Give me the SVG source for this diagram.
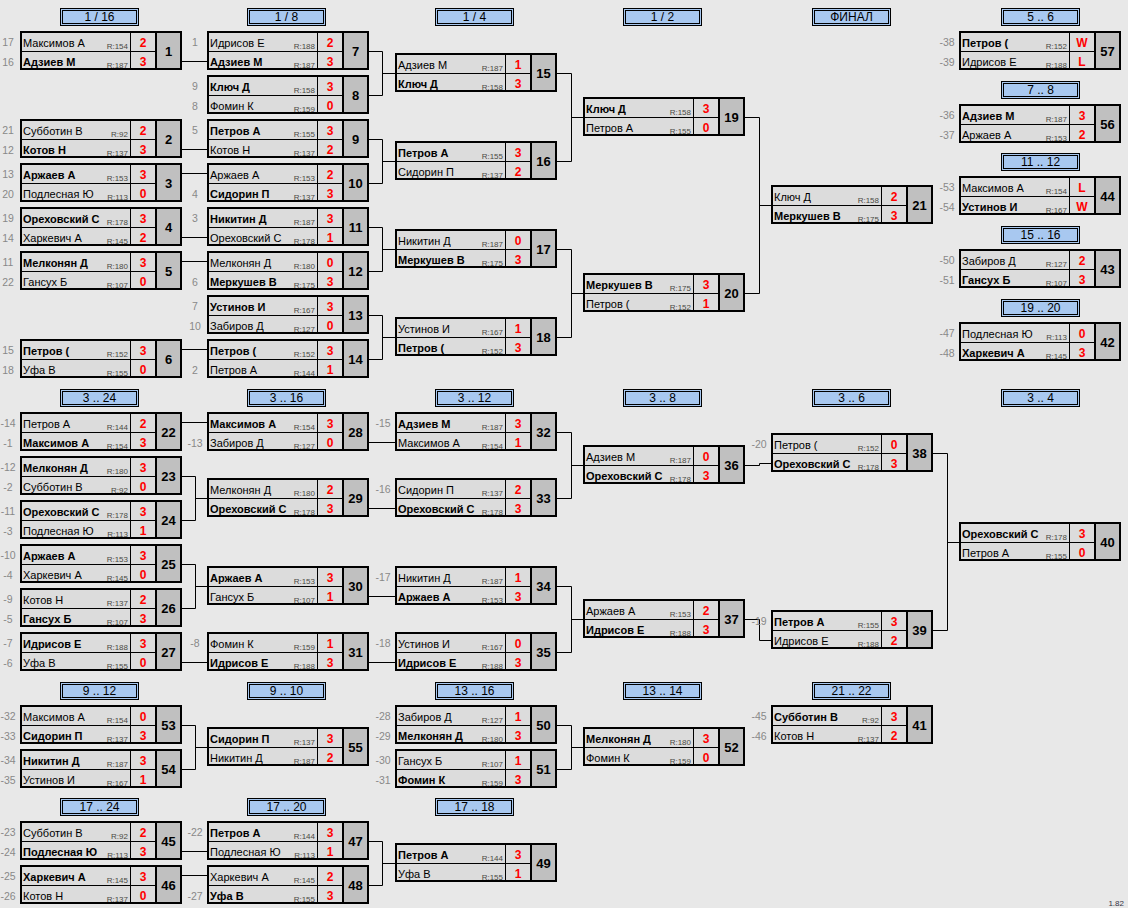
<svg xmlns="http://www.w3.org/2000/svg" xmlns:xlink="http://www.w3.org/1999/xlink" width="1128" height="908" viewBox="0 0 1128 908">
<style>
text{font-family:'Liberation Sans',Arial,sans-serif}
.n{font-size:11px;fill:#000}
.b{font-weight:bold}
.r{font-size:8px;fill:#4a4a44;text-anchor:end}
.s{font-size:12px;font-weight:bold;fill:#f00;text-anchor:middle}
.m{font-size:13px;font-weight:bold;fill:#000;text-anchor:middle}
.sd{font-size:10.5px;fill:#888;text-anchor:middle}
.h{font-size:12px;fill:#000;text-anchor:middle}
.v{font-size:8px;fill:#334;text-anchor:end}
.hb{fill:#a8c8f0;stroke:#000;stroke-width:1}
.hi{fill:none;stroke:#000;stroke-width:1}
.cf{fill:#dcdcdc;stroke:#000;stroke-width:2}
.nf{fill:#c0c0c0;stroke:#000;stroke-width:2}
.ln{stroke:#000;stroke-width:1;fill:none}
.cn{stroke:#000;stroke-width:1;fill:none}
</style>
<defs>
<g id="f"><rect class="cf" x="1" y="1" width="160" height="37"/><rect class="nf" x="136" y="1" width="25" height="37"/><path class="ln" d="M110.5 1V38M1 20.5H136"/></g>
<g id="hf"><rect class="hb" x="0.5" y="0.5" width="78" height="17"/><rect class="hi" x="2.5" y="2.5" width="74" height="13"/></g>
</defs>
<rect width="1128" height="908" fill="#e8e8e8"/>
<g id="connectors">
<path class="cn" d="M182 61.5H207M182 149.5H207M182 173.5H207M182 237.5H207M182 261.5H207M182 349.5H207
M369 51.5H382.5V95.5H369M382.5 73.5H395M369 139.5H382.5V183.5H369M382.5 161.5H395M369 227.5H382.5V271.5H369M382.5 249.5H395M369 315.5H382.5V359.5H369M382.5 337.5H395
M557 73.5H571.5V161.5H557M571.5 117.5H583M557 249.5H571.5V337.5H557M571.5 293.5H583
M745 117.5H759.5V293.5H745M759.5 205.5H771
M182 422.5H207M182 476.5H195.5V520.5H182M195.5 498.5H207M182 564.5H195.5V608.5H182M195.5 586.5H207M182 662.5H207
M369 442.5H395M369 508.5H395M369 596.5H395M369 662.5H395
M557 432.5H571.5V498.5H557M571.5 465.5H583M557 586.5H571.5V652.5H557M571.5 619.5H583
M745 465.5H759.5V463.5H771M745 619.5H759.5V640.5H771
M933 453.5H947.5V630.5H933M947.5 542.5H959
M182 725.5H195.5V769.5H182M195.5 747.5H207M557 725.5H571.5V769.5H557M571.5 747.5H583
M182 851.5H207M182 875.5H207M369 841.5H382.5V885.5H369M382.5 863.5H395"/>
</g>
<g id="headers">
<g id="h1" transform="translate(60,8)"><use href="#hf"/><text class="h" x="39.5" y="13">1 / 16</text></g>
<g id="h2" transform="translate(247,8)"><use href="#hf"/><text class="h" x="39.5" y="13">1 / 8</text></g>
<g id="h3" transform="translate(435,8)"><use href="#hf"/><text class="h" x="39.5" y="13">1 / 4</text></g>
<g id="h4" transform="translate(623,8)"><use href="#hf"/><text class="h" x="39.5" y="13">1 / 2</text></g>
<g id="h5" transform="translate(812,8)"><use href="#hf"/><text class="h" x="39.5" y="13">ФИНАЛ</text></g>
<g id="h6" transform="translate(1001,8)"><use href="#hf"/><text class="h" x="39.5" y="13">5 .. 6</text></g>
<g id="h7" transform="translate(1001,81)"><use href="#hf"/><text class="h" x="39.5" y="13">7 .. 8</text></g>
<g id="h8" transform="translate(1001,153)"><use href="#hf"/><text class="h" x="39.5" y="13">11 .. 12</text></g>
<g id="h9" transform="translate(1001,226)"><use href="#hf"/><text class="h" x="39.5" y="13">15 .. 16</text></g>
<g id="h10" transform="translate(1001,299)"><use href="#hf"/><text class="h" x="39.5" y="13">19 .. 20</text></g>
<g id="h11" transform="translate(60,389)"><use href="#hf"/><text class="h" x="39.5" y="13">3 .. 24</text></g>
<g id="h12" transform="translate(247,389)"><use href="#hf"/><text class="h" x="39.5" y="13">3 .. 16</text></g>
<g id="h13" transform="translate(435,389)"><use href="#hf"/><text class="h" x="39.5" y="13">3 .. 12</text></g>
<g id="h14" transform="translate(623,389)"><use href="#hf"/><text class="h" x="39.5" y="13">3 .. 8</text></g>
<g id="h15" transform="translate(812,389)"><use href="#hf"/><text class="h" x="39.5" y="13">3 .. 6</text></g>
<g id="h16" transform="translate(1001,389)"><use href="#hf"/><text class="h" x="39.5" y="13">3 .. 4</text></g>
<g id="h17" transform="translate(60,682)"><use href="#hf"/><text class="h" x="39.5" y="13">9 .. 12</text></g>
<g id="h18" transform="translate(247,682)"><use href="#hf"/><text class="h" x="39.5" y="13">9 .. 10</text></g>
<g id="h19" transform="translate(435,682)"><use href="#hf"/><text class="h" x="39.5" y="13">13 .. 16</text></g>
<g id="h20" transform="translate(623,682)"><use href="#hf"/><text class="h" x="39.5" y="13">13 .. 14</text></g>
<g id="h21" transform="translate(812,682)"><use href="#hf"/><text class="h" x="39.5" y="13">21 .. 22</text></g>
<g id="h22" transform="translate(60,798)"><use href="#hf"/><text class="h" x="39.5" y="13">17 .. 24</text></g>
<g id="h23" transform="translate(247,798)"><use href="#hf"/><text class="h" x="39.5" y="13">17 .. 20</text></g>
<g id="h24" transform="translate(435,798)"><use href="#hf"/><text class="h" x="39.5" y="13">17 .. 18</text></g>
</g>
<g id="m1" transform="translate(20,31)"><use href="#f"/><text class="sd" x="-12" y="15">17</text><text class="sd" x="-12" y="35">16</text><text class="n" x="3" y="15.5">Максимов А</text><text class="r" x="108" y="17.5">R:154</text><text class="s" x="123" y="15.5">2</text><text class="n b" x="3" y="34.5">Адзиев М</text><text class="r" x="108" y="36.5">R:187</text><text class="s" x="123" y="34.5">3</text><text class="m" x="148.5" y="24.5">1</text></g>
<g id="m2" transform="translate(20,119)"><use href="#f"/><text class="sd" x="-12" y="15">21</text><text class="sd" x="-12" y="35">12</text><text class="n" x="3" y="15.5">Субботин В</text><text class="r" x="108" y="17.5">R:92</text><text class="s" x="123" y="15.5">2</text><text class="n b" x="3" y="34.5">Котов Н</text><text class="r" x="108" y="36.5">R:137</text><text class="s" x="123" y="34.5">3</text><text class="m" x="148.5" y="24.5">2</text></g>
<g id="m3" transform="translate(20,163)"><use href="#f"/><text class="sd" x="-12" y="15">13</text><text class="sd" x="-12" y="35">20</text><text class="n b" x="3" y="15.5">Аржаев А</text><text class="r" x="108" y="17.5">R:153</text><text class="s" x="123" y="15.5">3</text><text class="n" x="3" y="34.5">Подлесная Ю</text><text class="r" x="108" y="36.5">R:113</text><text class="s" x="123" y="34.5">0</text><text class="m" x="148.5" y="24.5">3</text></g>
<g id="m4" transform="translate(20,207)"><use href="#f"/><text class="sd" x="-12" y="15">19</text><text class="sd" x="-12" y="35">14</text><text class="n b" x="3" y="15.5">Ореховский С</text><text class="r" x="108" y="17.5">R:178</text><text class="s" x="123" y="15.5">3</text><text class="n" x="3" y="34.5">Харкевич А</text><text class="r" x="108" y="36.5">R:145</text><text class="s" x="123" y="34.5">2</text><text class="m" x="148.5" y="24.5">4</text></g>
<g id="m5" transform="translate(20,251)"><use href="#f"/><text class="sd" x="-12" y="15">11</text><text class="sd" x="-12" y="35">22</text><text class="n b" x="3" y="15.5">Мелконян Д</text><text class="r" x="108" y="17.5">R:180</text><text class="s" x="123" y="15.5">3</text><text class="n" x="3" y="34.5">Гансух Б</text><text class="r" x="108" y="36.5">R:107</text><text class="s" x="123" y="34.5">0</text><text class="m" x="148.5" y="24.5">5</text></g>
<g id="m6" transform="translate(20,339)"><use href="#f"/><text class="sd" x="-12" y="15">15</text><text class="sd" x="-12" y="35">18</text><text class="n b" x="3" y="15.5">Петров (</text><text class="r" x="108" y="17.5">R:152</text><text class="s" x="123" y="15.5">3</text><text class="n" x="3" y="34.5">Уфа В</text><text class="r" x="108" y="36.5">R:155</text><text class="s" x="123" y="34.5">0</text><text class="m" x="148.5" y="24.5">6</text></g>
<g id="m7" transform="translate(207,31)"><use href="#f"/><text class="sd" x="-12" y="15">1</text><text class="n" x="3" y="15.5">Идрисов Е</text><text class="r" x="108" y="17.5">R:188</text><text class="s" x="123" y="15.5">2</text><text class="n b" x="3" y="34.5">Адзиев М</text><text class="r" x="108" y="36.5">R:187</text><text class="s" x="123" y="34.5">3</text><text class="m" x="148.5" y="24.5">7</text></g>
<g id="m8" transform="translate(207,75)"><use href="#f"/><text class="sd" x="-12" y="15">9</text><text class="sd" x="-12" y="35">8</text><text class="n b" x="3" y="15.5">Ключ Д</text><text class="r" x="108" y="17.5">R:158</text><text class="s" x="123" y="15.5">3</text><text class="n" x="3" y="34.5">Фомин К</text><text class="r" x="108" y="36.5">R:159</text><text class="s" x="123" y="34.5">0</text><text class="m" x="148.5" y="24.5">8</text></g>
<g id="m9" transform="translate(207,119)"><use href="#f"/><text class="sd" x="-12" y="15">5</text><text class="n b" x="3" y="15.5">Петров А</text><text class="r" x="108" y="17.5">R:155</text><text class="s" x="123" y="15.5">3</text><text class="n" x="3" y="34.5">Котов Н</text><text class="r" x="108" y="36.5">R:137</text><text class="s" x="123" y="34.5">2</text><text class="m" x="148.5" y="24.5">9</text></g>
<g id="m10" transform="translate(207,163)"><use href="#f"/><text class="sd" x="-12" y="35">4</text><text class="n" x="3" y="15.5">Аржаев А</text><text class="r" x="108" y="17.5">R:153</text><text class="s" x="123" y="15.5">2</text><text class="n b" x="3" y="34.5">Сидорин П</text><text class="r" x="108" y="36.5">R:137</text><text class="s" x="123" y="34.5">3</text><text class="m" x="148.5" y="24.5">10</text></g>
<g id="m11" transform="translate(207,207)"><use href="#f"/><text class="sd" x="-12" y="15">3</text><text class="n b" x="3" y="15.5">Никитин Д</text><text class="r" x="108" y="17.5">R:187</text><text class="s" x="123" y="15.5">3</text><text class="n" x="3" y="34.5">Ореховский С</text><text class="r" x="108" y="36.5">R:178</text><text class="s" x="123" y="34.5">1</text><text class="m" x="148.5" y="24.5">11</text></g>
<g id="m12" transform="translate(207,251)"><use href="#f"/><text class="sd" x="-12" y="35">6</text><text class="n" x="3" y="15.5">Мелконян Д</text><text class="r" x="108" y="17.5">R:180</text><text class="s" x="123" y="15.5">0</text><text class="n b" x="3" y="34.5">Меркушев В</text><text class="r" x="108" y="36.5">R:175</text><text class="s" x="123" y="34.5">3</text><text class="m" x="148.5" y="24.5">12</text></g>
<g id="m13" transform="translate(207,295)"><use href="#f"/><text class="sd" x="-12" y="15">7</text><text class="sd" x="-12" y="35">10</text><text class="n b" x="3" y="15.5">Устинов И</text><text class="r" x="108" y="17.5">R:167</text><text class="s" x="123" y="15.5">3</text><text class="n" x="3" y="34.5">Забиров Д</text><text class="r" x="108" y="36.5">R:127</text><text class="s" x="123" y="34.5">0</text><text class="m" x="148.5" y="24.5">13</text></g>
<g id="m14" transform="translate(207,339)"><use href="#f"/><text class="sd" x="-12" y="35">2</text><text class="n b" x="3" y="15.5">Петров (</text><text class="r" x="108" y="17.5">R:152</text><text class="s" x="123" y="15.5">3</text><text class="n" x="3" y="34.5">Петров А</text><text class="r" x="108" y="36.5">R:144</text><text class="s" x="123" y="34.5">1</text><text class="m" x="148.5" y="24.5">14</text></g>
<g id="m15" transform="translate(395,53)"><use href="#f"/><text class="n" x="3" y="15.5">Адзиев М</text><text class="r" x="108" y="17.5">R:187</text><text class="s" x="123" y="15.5">1</text><text class="n b" x="3" y="34.5">Ключ Д</text><text class="r" x="108" y="36.5">R:158</text><text class="s" x="123" y="34.5">3</text><text class="m" x="148.5" y="24.5">15</text></g>
<g id="m16" transform="translate(395,141)"><use href="#f"/><text class="n b" x="3" y="15.5">Петров А</text><text class="r" x="108" y="17.5">R:155</text><text class="s" x="123" y="15.5">3</text><text class="n" x="3" y="34.5">Сидорин П</text><text class="r" x="108" y="36.5">R:137</text><text class="s" x="123" y="34.5">2</text><text class="m" x="148.5" y="24.5">16</text></g>
<g id="m17" transform="translate(395,229)"><use href="#f"/><text class="n" x="3" y="15.5">Никитин Д</text><text class="r" x="108" y="17.5">R:187</text><text class="s" x="123" y="15.5">0</text><text class="n b" x="3" y="34.5">Меркушев В</text><text class="r" x="108" y="36.5">R:175</text><text class="s" x="123" y="34.5">3</text><text class="m" x="148.5" y="24.5">17</text></g>
<g id="m18" transform="translate(395,317)"><use href="#f"/><text class="n" x="3" y="15.5">Устинов И</text><text class="r" x="108" y="17.5">R:167</text><text class="s" x="123" y="15.5">1</text><text class="n b" x="3" y="34.5">Петров (</text><text class="r" x="108" y="36.5">R:152</text><text class="s" x="123" y="34.5">3</text><text class="m" x="148.5" y="24.5">18</text></g>
<g id="m19" transform="translate(583,97)"><use href="#f"/><text class="n b" x="3" y="15.5">Ключ Д</text><text class="r" x="108" y="17.5">R:158</text><text class="s" x="123" y="15.5">3</text><text class="n" x="3" y="34.5">Петров А</text><text class="r" x="108" y="36.5">R:155</text><text class="s" x="123" y="34.5">0</text><text class="m" x="148.5" y="24.5">19</text></g>
<g id="m20" transform="translate(583,273)"><use href="#f"/><text class="n b" x="3" y="15.5">Меркушев В</text><text class="r" x="108" y="17.5">R:175</text><text class="s" x="123" y="15.5">3</text><text class="n" x="3" y="34.5">Петров (</text><text class="r" x="108" y="36.5">R:152</text><text class="s" x="123" y="34.5">1</text><text class="m" x="148.5" y="24.5">20</text></g>
<g id="m21" transform="translate(771,185)"><use href="#f"/><text class="n" x="3" y="15.5">Ключ Д</text><text class="r" x="108" y="17.5">R:158</text><text class="s" x="123" y="15.5">2</text><text class="n b" x="3" y="34.5">Меркушев В</text><text class="r" x="108" y="36.5">R:175</text><text class="s" x="123" y="34.5">3</text><text class="m" x="148.5" y="24.5">21</text></g>
<g id="m57" transform="translate(959,31)"><use href="#f"/><text class="sd" x="-12" y="15">-38</text><text class="sd" x="-12" y="35">-39</text><text class="n b" x="3" y="15.5">Петров (</text><text class="r" x="108" y="17.5">R:152</text><text class="s" x="123" y="15.5">W</text><text class="n" x="3" y="34.5">Идрисов Е</text><text class="r" x="108" y="36.5">R:188</text><text class="s" x="123" y="34.5">L</text><text class="m" x="148.5" y="24.5">57</text></g>
<g id="m56" transform="translate(959,104)"><use href="#f"/><text class="sd" x="-12" y="15">-36</text><text class="sd" x="-12" y="35">-37</text><text class="n b" x="3" y="15.5">Адзиев М</text><text class="r" x="108" y="17.5">R:187</text><text class="s" x="123" y="15.5">3</text><text class="n" x="3" y="34.5">Аржаев А</text><text class="r" x="108" y="36.5">R:153</text><text class="s" x="123" y="34.5">2</text><text class="m" x="148.5" y="24.5">56</text></g>
<g id="m44" transform="translate(959,176)"><use href="#f"/><text class="sd" x="-12" y="15">-53</text><text class="sd" x="-12" y="35">-54</text><text class="n" x="3" y="15.5">Максимов А</text><text class="r" x="108" y="17.5">R:154</text><text class="s" x="123" y="15.5">L</text><text class="n b" x="3" y="34.5">Устинов И</text><text class="r" x="108" y="36.5">R:167</text><text class="s" x="123" y="34.5">W</text><text class="m" x="148.5" y="24.5">44</text></g>
<g id="m43" transform="translate(959,249)"><use href="#f"/><text class="sd" x="-12" y="15">-50</text><text class="sd" x="-12" y="35">-51</text><text class="n" x="3" y="15.5">Забиров Д</text><text class="r" x="108" y="17.5">R:127</text><text class="s" x="123" y="15.5">2</text><text class="n b" x="3" y="34.5">Гансух Б</text><text class="r" x="108" y="36.5">R:107</text><text class="s" x="123" y="34.5">3</text><text class="m" x="148.5" y="24.5">43</text></g>
<g id="m42" transform="translate(959,322)"><use href="#f"/><text class="sd" x="-12" y="15">-47</text><text class="sd" x="-12" y="35">-48</text><text class="n" x="3" y="15.5">Подлесная Ю</text><text class="r" x="108" y="17.5">R:113</text><text class="s" x="123" y="15.5">0</text><text class="n b" x="3" y="34.5">Харкевич А</text><text class="r" x="108" y="36.5">R:145</text><text class="s" x="123" y="34.5">3</text><text class="m" x="148.5" y="24.5">42</text></g>
<g id="m22" transform="translate(20,412)"><use href="#f"/><text class="sd" x="-12" y="15">-14</text><text class="sd" x="-12" y="35">-1</text><text class="n" x="3" y="15.5">Петров А</text><text class="r" x="108" y="17.5">R:144</text><text class="s" x="123" y="15.5">2</text><text class="n b" x="3" y="34.5">Максимов А</text><text class="r" x="108" y="36.5">R:154</text><text class="s" x="123" y="34.5">3</text><text class="m" x="148.5" y="24.5">22</text></g>
<g id="m23" transform="translate(20,456)"><use href="#f"/><text class="sd" x="-12" y="15">-12</text><text class="sd" x="-12" y="35">-2</text><text class="n b" x="3" y="15.5">Мелконян Д</text><text class="r" x="108" y="17.5">R:180</text><text class="s" x="123" y="15.5">3</text><text class="n" x="3" y="34.5">Субботин В</text><text class="r" x="108" y="36.5">R:92</text><text class="s" x="123" y="34.5">0</text><text class="m" x="148.5" y="24.5">23</text></g>
<g id="m24" transform="translate(20,500)"><use href="#f"/><text class="sd" x="-12" y="15">-11</text><text class="sd" x="-12" y="35">-3</text><text class="n b" x="3" y="15.5">Ореховский С</text><text class="r" x="108" y="17.5">R:178</text><text class="s" x="123" y="15.5">3</text><text class="n" x="3" y="34.5">Подлесная Ю</text><text class="r" x="108" y="36.5">R:113</text><text class="s" x="123" y="34.5">1</text><text class="m" x="148.5" y="24.5">24</text></g>
<g id="m25" transform="translate(20,544)"><use href="#f"/><text class="sd" x="-12" y="15">-10</text><text class="sd" x="-12" y="35">-4</text><text class="n b" x="3" y="15.5">Аржаев А</text><text class="r" x="108" y="17.5">R:153</text><text class="s" x="123" y="15.5">3</text><text class="n" x="3" y="34.5">Харкевич А</text><text class="r" x="108" y="36.5">R:145</text><text class="s" x="123" y="34.5">0</text><text class="m" x="148.5" y="24.5">25</text></g>
<g id="m26" transform="translate(20,588)"><use href="#f"/><text class="sd" x="-12" y="15">-9</text><text class="sd" x="-12" y="35">-5</text><text class="n" x="3" y="15.5">Котов Н</text><text class="r" x="108" y="17.5">R:137</text><text class="s" x="123" y="15.5">2</text><text class="n b" x="3" y="34.5">Гансух Б</text><text class="r" x="108" y="36.5">R:107</text><text class="s" x="123" y="34.5">3</text><text class="m" x="148.5" y="24.5">26</text></g>
<g id="m27" transform="translate(20,632)"><use href="#f"/><text class="sd" x="-12" y="15">-7</text><text class="sd" x="-12" y="35">-6</text><text class="n b" x="3" y="15.5">Идрисов Е</text><text class="r" x="108" y="17.5">R:188</text><text class="s" x="123" y="15.5">3</text><text class="n" x="3" y="34.5">Уфа В</text><text class="r" x="108" y="36.5">R:155</text><text class="s" x="123" y="34.5">0</text><text class="m" x="148.5" y="24.5">27</text></g>
<g id="m28" transform="translate(207,412)"><use href="#f"/><text class="sd" x="-12" y="35">-13</text><text class="n b" x="3" y="15.5">Максимов А</text><text class="r" x="108" y="17.5">R:154</text><text class="s" x="123" y="15.5">3</text><text class="n" x="3" y="34.5">Забиров Д</text><text class="r" x="108" y="36.5">R:127</text><text class="s" x="123" y="34.5">0</text><text class="m" x="148.5" y="24.5">28</text></g>
<g id="m29" transform="translate(207,478)"><use href="#f"/><text class="n" x="3" y="15.5">Мелконян Д</text><text class="r" x="108" y="17.5">R:180</text><text class="s" x="123" y="15.5">2</text><text class="n b" x="3" y="34.5">Ореховский С</text><text class="r" x="108" y="36.5">R:178</text><text class="s" x="123" y="34.5">3</text><text class="m" x="148.5" y="24.5">29</text></g>
<g id="m30" transform="translate(207,566)"><use href="#f"/><text class="n b" x="3" y="15.5">Аржаев А</text><text class="r" x="108" y="17.5">R:153</text><text class="s" x="123" y="15.5">3</text><text class="n" x="3" y="34.5">Гансух Б</text><text class="r" x="108" y="36.5">R:107</text><text class="s" x="123" y="34.5">1</text><text class="m" x="148.5" y="24.5">30</text></g>
<g id="m31" transform="translate(207,632)"><use href="#f"/><text class="sd" x="-12" y="15">-8</text><text class="n" x="3" y="15.5">Фомин К</text><text class="r" x="108" y="17.5">R:159</text><text class="s" x="123" y="15.5">1</text><text class="n b" x="3" y="34.5">Идрисов Е</text><text class="r" x="108" y="36.5">R:188</text><text class="s" x="123" y="34.5">3</text><text class="m" x="148.5" y="24.5">31</text></g>
<g id="m32" transform="translate(395,412)"><use href="#f"/><text class="sd" x="-12" y="15">-15</text><text class="n b" x="3" y="15.5">Адзиев М</text><text class="r" x="108" y="17.5">R:187</text><text class="s" x="123" y="15.5">3</text><text class="n" x="3" y="34.5">Максимов А</text><text class="r" x="108" y="36.5">R:154</text><text class="s" x="123" y="34.5">1</text><text class="m" x="148.5" y="24.5">32</text></g>
<g id="m33" transform="translate(395,478)"><use href="#f"/><text class="sd" x="-12" y="15">-16</text><text class="n" x="3" y="15.5">Сидорин П</text><text class="r" x="108" y="17.5">R:137</text><text class="s" x="123" y="15.5">2</text><text class="n b" x="3" y="34.5">Ореховский С</text><text class="r" x="108" y="36.5">R:178</text><text class="s" x="123" y="34.5">3</text><text class="m" x="148.5" y="24.5">33</text></g>
<g id="m34" transform="translate(395,566)"><use href="#f"/><text class="sd" x="-12" y="15">-17</text><text class="n" x="3" y="15.5">Никитин Д</text><text class="r" x="108" y="17.5">R:187</text><text class="s" x="123" y="15.5">1</text><text class="n b" x="3" y="34.5">Аржаев А</text><text class="r" x="108" y="36.5">R:153</text><text class="s" x="123" y="34.5">3</text><text class="m" x="148.5" y="24.5">34</text></g>
<g id="m35" transform="translate(395,632)"><use href="#f"/><text class="sd" x="-12" y="15">-18</text><text class="n" x="3" y="15.5">Устинов И</text><text class="r" x="108" y="17.5">R:167</text><text class="s" x="123" y="15.5">0</text><text class="n b" x="3" y="34.5">Идрисов Е</text><text class="r" x="108" y="36.5">R:188</text><text class="s" x="123" y="34.5">3</text><text class="m" x="148.5" y="24.5">35</text></g>
<g id="m36" transform="translate(583,445)"><use href="#f"/><text class="n" x="3" y="15.5">Адзиев М</text><text class="r" x="108" y="17.5">R:187</text><text class="s" x="123" y="15.5">0</text><text class="n b" x="3" y="34.5">Ореховский С</text><text class="r" x="108" y="36.5">R:178</text><text class="s" x="123" y="34.5">3</text><text class="m" x="148.5" y="24.5">36</text></g>
<g id="m37" transform="translate(583,599)"><use href="#f"/><text class="n" x="3" y="15.5">Аржаев А</text><text class="r" x="108" y="17.5">R:153</text><text class="s" x="123" y="15.5">2</text><text class="n b" x="3" y="34.5">Идрисов Е</text><text class="r" x="108" y="36.5">R:188</text><text class="s" x="123" y="34.5">3</text><text class="m" x="148.5" y="24.5">37</text></g>
<g id="m38" transform="translate(771,433)"><use href="#f"/><text class="sd" x="-12" y="15">-20</text><text class="n" x="3" y="15.5">Петров (</text><text class="r" x="108" y="17.5">R:152</text><text class="s" x="123" y="15.5">0</text><text class="n b" x="3" y="34.5">Ореховский С</text><text class="r" x="108" y="36.5">R:178</text><text class="s" x="123" y="34.5">3</text><text class="m" x="148.5" y="24.5">38</text></g>
<g id="m39" transform="translate(771,610)"><use href="#f"/><text class="sd" x="-12" y="15">-19</text><text class="n b" x="3" y="15.5">Петров А</text><text class="r" x="108" y="17.5">R:155</text><text class="s" x="123" y="15.5">3</text><text class="n" x="3" y="34.5">Идрисов Е</text><text class="r" x="108" y="36.5">R:188</text><text class="s" x="123" y="34.5">2</text><text class="m" x="148.5" y="24.5">39</text></g>
<g id="m40" transform="translate(959,522)"><use href="#f"/><text class="n b" x="3" y="15.5">Ореховский С</text><text class="r" x="108" y="17.5">R:178</text><text class="s" x="123" y="15.5">3</text><text class="n" x="3" y="34.5">Петров А</text><text class="r" x="108" y="36.5">R:155</text><text class="s" x="123" y="34.5">0</text><text class="m" x="148.5" y="24.5">40</text></g>
<g id="m53" transform="translate(20,705)"><use href="#f"/><text class="sd" x="-12" y="15">-32</text><text class="sd" x="-12" y="35">-33</text><text class="n" x="3" y="15.5">Максимов А</text><text class="r" x="108" y="17.5">R:154</text><text class="s" x="123" y="15.5">0</text><text class="n b" x="3" y="34.5">Сидорин П</text><text class="r" x="108" y="36.5">R:137</text><text class="s" x="123" y="34.5">3</text><text class="m" x="148.5" y="24.5">53</text></g>
<g id="m54" transform="translate(20,749)"><use href="#f"/><text class="sd" x="-12" y="15">-34</text><text class="sd" x="-12" y="35">-35</text><text class="n b" x="3" y="15.5">Никитин Д</text><text class="r" x="108" y="17.5">R:187</text><text class="s" x="123" y="15.5">3</text><text class="n" x="3" y="34.5">Устинов И</text><text class="r" x="108" y="36.5">R:167</text><text class="s" x="123" y="34.5">1</text><text class="m" x="148.5" y="24.5">54</text></g>
<g id="m55" transform="translate(207,727)"><use href="#f"/><text class="n b" x="3" y="15.5">Сидорин П</text><text class="r" x="108" y="17.5">R:137</text><text class="s" x="123" y="15.5">3</text><text class="n" x="3" y="34.5">Никитин Д</text><text class="r" x="108" y="36.5">R:187</text><text class="s" x="123" y="34.5">2</text><text class="m" x="148.5" y="24.5">55</text></g>
<g id="m50" transform="translate(395,705)"><use href="#f"/><text class="sd" x="-12" y="15">-28</text><text class="sd" x="-12" y="35">-29</text><text class="n" x="3" y="15.5">Забиров Д</text><text class="r" x="108" y="17.5">R:127</text><text class="s" x="123" y="15.5">1</text><text class="n b" x="3" y="34.5">Мелконян Д</text><text class="r" x="108" y="36.5">R:180</text><text class="s" x="123" y="34.5">3</text><text class="m" x="148.5" y="24.5">50</text></g>
<g id="m51" transform="translate(395,749)"><use href="#f"/><text class="sd" x="-12" y="15">-30</text><text class="sd" x="-12" y="35">-31</text><text class="n" x="3" y="15.5">Гансух Б</text><text class="r" x="108" y="17.5">R:107</text><text class="s" x="123" y="15.5">1</text><text class="n b" x="3" y="34.5">Фомин К</text><text class="r" x="108" y="36.5">R:159</text><text class="s" x="123" y="34.5">3</text><text class="m" x="148.5" y="24.5">51</text></g>
<g id="m52" transform="translate(583,727)"><use href="#f"/><text class="n b" x="3" y="15.5">Мелконян Д</text><text class="r" x="108" y="17.5">R:180</text><text class="s" x="123" y="15.5">3</text><text class="n" x="3" y="34.5">Фомин К</text><text class="r" x="108" y="36.5">R:159</text><text class="s" x="123" y="34.5">0</text><text class="m" x="148.5" y="24.5">52</text></g>
<g id="m41" transform="translate(771,705)"><use href="#f"/><text class="sd" x="-12" y="15">-45</text><text class="sd" x="-12" y="35">-46</text><text class="n b" x="3" y="15.5">Субботин В</text><text class="r" x="108" y="17.5">R:92</text><text class="s" x="123" y="15.5">3</text><text class="n" x="3" y="34.5">Котов Н</text><text class="r" x="108" y="36.5">R:137</text><text class="s" x="123" y="34.5">2</text><text class="m" x="148.5" y="24.5">41</text></g>
<g id="m45" transform="translate(20,821)"><use href="#f"/><text class="sd" x="-12" y="15">-23</text><text class="sd" x="-12" y="35">-24</text><text class="n" x="3" y="15.5">Субботин В</text><text class="r" x="108" y="17.5">R:92</text><text class="s" x="123" y="15.5">2</text><text class="n b" x="3" y="34.5">Подлесная Ю</text><text class="r" x="108" y="36.5">R:113</text><text class="s" x="123" y="34.5">3</text><text class="m" x="148.5" y="24.5">45</text></g>
<g id="m46" transform="translate(20,865)"><use href="#f"/><text class="sd" x="-12" y="15">-25</text><text class="sd" x="-12" y="35">-26</text><text class="n b" x="3" y="15.5">Харкевич А</text><text class="r" x="108" y="17.5">R:145</text><text class="s" x="123" y="15.5">3</text><text class="n" x="3" y="34.5">Котов Н</text><text class="r" x="108" y="36.5">R:137</text><text class="s" x="123" y="34.5">0</text><text class="m" x="148.5" y="24.5">46</text></g>
<g id="m47" transform="translate(207,821)"><use href="#f"/><text class="sd" x="-12" y="15">-22</text><text class="n b" x="3" y="15.5">Петров А</text><text class="r" x="108" y="17.5">R:144</text><text class="s" x="123" y="15.5">3</text><text class="n" x="3" y="34.5">Подлесная Ю</text><text class="r" x="108" y="36.5">R:113</text><text class="s" x="123" y="34.5">1</text><text class="m" x="148.5" y="24.5">47</text></g>
<g id="m48" transform="translate(207,865)"><use href="#f"/><text class="sd" x="-12" y="35">-27</text><text class="n" x="3" y="15.5">Харкевич А</text><text class="r" x="108" y="17.5">R:145</text><text class="s" x="123" y="15.5">2</text><text class="n b" x="3" y="34.5">Уфа В</text><text class="r" x="108" y="36.5">R:155</text><text class="s" x="123" y="34.5">3</text><text class="m" x="148.5" y="24.5">48</text></g>
<g id="m49" transform="translate(395,843)"><use href="#f"/><text class="n b" x="3" y="15.5">Петров А</text><text class="r" x="108" y="17.5">R:144</text><text class="s" x="123" y="15.5">3</text><text class="n" x="3" y="34.5">Уфа В</text><text class="r" x="108" y="36.5">R:155</text><text class="s" x="123" y="34.5">1</text><text class="m" x="148.5" y="24.5">49</text></g>
<text class="v" x="1124" y="906">1.82</text>
</svg>
